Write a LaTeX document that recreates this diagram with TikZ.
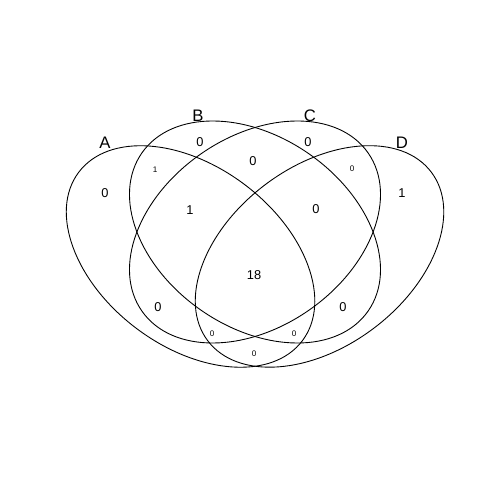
\documentclass[tikz,border=0pt]{standalone}
\usepackage{fontspec}
\setmainfont{Liberation Sans}
\begin{document}
\begin{tikzpicture}[x=0.02cm,y=0.02cm,
    setline/.style={line width=0.5pt},
    setname/.style={font=\fontsize{9.5}{11}\selectfont},
    count/.style={font=\fontsize{7.3}{8}\selectfont},
    smallcount/.style={font=\fontsize{4.6}{5}\selectfont}]
\useasboundingbox (0,0) rectangle (480,480);
\coordinate (cA) at (190.5,223.5);
\coordinate (cBC) at (255,248);
\coordinate (cD) at (319.5,223.5);
\draw[setline,rotate around={-37:(cA)}] (cA) ellipse (140 and 90);
\draw[setline,rotate around={-35:(cBC)}] (cBC) ellipse (138 and 95);
\draw[setline,rotate around={35:(cBC)}] (cBC) ellipse (138 and 95);
\draw[setline,rotate around={37:(cD)}] (cD) ellipse (140 and 90);
% set names
\node[setname] (nA) at (105,337) {A};
\node[setname] (nB) at (198,364) {B};
\node[setname] (nC) at (310,364) {C};
\node[setname] (nD) at (402,337) {D};
% region counts
\node[count] (rA) at (105,287) {0};
\node[count] (rB) at (200,338) {0};
\node[count] (rC) at (308,338) {0};
\node[count] (rD) at (402,287) {1};
\node[smallcount] (rAB) at (155,310) {1};
\node[count] (rBC) at (253,319) {0};
\node[smallcount] (rCD) at (352,311) {0};
\node[count] (rABC) at (190,270) {1};
\node[count] (rBCD) at (316,271) {0};
\node[count] (rABCD) at (254,205) {18};
\node[count] (rAC) at (158,173) {0};
\node[count] (rBD) at (343,173) {0};
\node[smallcount] (rACD) at (212,146) {0};
\node[smallcount] (rABD) at (294,146) {0};
\node[smallcount] (rAD) at (254,126) {0};
\end{tikzpicture}
\end{document}
